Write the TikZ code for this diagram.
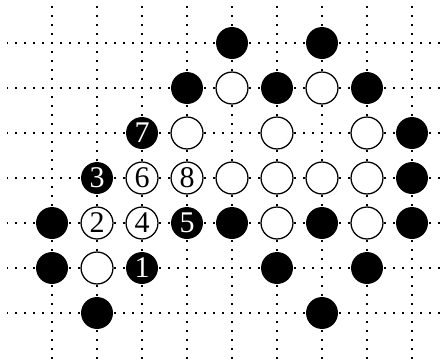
\documentclass[tikz,border=0pt]{standalone}
\usepackage{tikz}
\usepackage{fontspec}
\setmainfont{Liberation Serif}

\begin{document}
\begin{tikzpicture}[y=-1cm,
    gridline/.style={line width=0.85pt, dash pattern=on 0.85pt off 4.84pt, dash phase=0.42pt},
    stone/.style={circle, minimum size=0.71cm, inner sep=0pt, font=\fontsize{19}{19}\selectfont},
    blackstone/.style={stone, fill=black, text=white},
    whitestone/.style={stone, draw=black, line width=0.8pt, fill=white}]
    \useasboundingbox (-1.156,-0.956) rectangle (8.778,7.044);
    \clip (-1.156,-0.956) rectangle (8.778,7.044);
    % board
    \foreach \r in {0,...,6}
        \draw[gridline] (-1,\r) -- (10,\r);
    \foreach \c in {0,...,8}
        \draw[gridline] (\c,-1) -- (\c,8);
    % stones without numbers
    \foreach \c/\r [count=\k] in {4/0,6/0,3/1,5/1,7/1,8/2,8/3,0/4,4/4,6/4,8/4,0/5,5/5,7/5,1/6,6/6}
        \node[blackstone] (b\k) at (\c,\r) {};
    \foreach \c/\r [count=\k] in {4/1,6/1,3/2,5/2,7/2,4/3,5/3,6/3,7/3,5/4,7/4,1/5}
        \node[whitestone] (w\k) at (\c,\r) {};
    % numbered moves
    \node[blackstone] (m1) at (2,5) {1};
    \node[whitestone] (m2) at (1,4) {2};
    \node[blackstone] (m3) at (1,3) {3};
    \node[whitestone] (m4) at (2,4) {4};
    \node[blackstone] (m5) at (3,4) {5};
    \node[whitestone] (m6) at (2,3) {6};
    \node[blackstone] (m7) at (2,2) {7};
    \node[whitestone] (m8) at (3,3) {8};
\end{tikzpicture}
\end{document}
